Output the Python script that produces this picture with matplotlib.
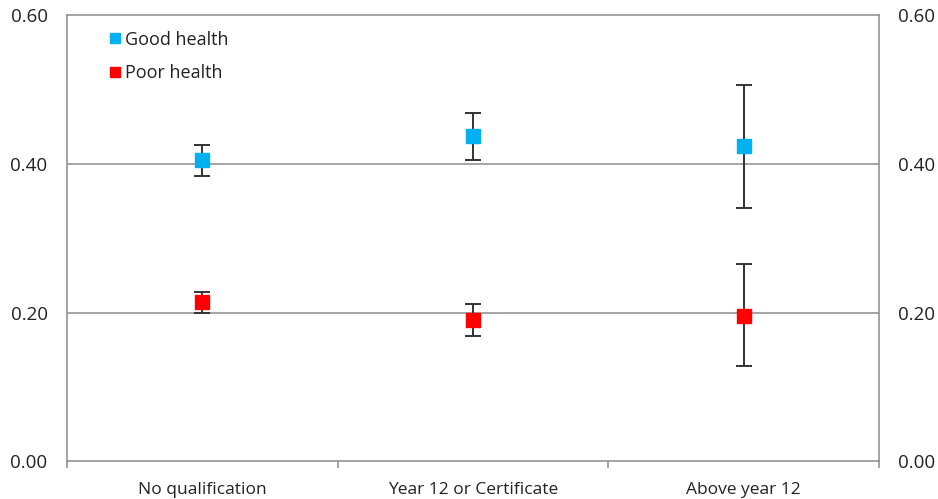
import matplotlib
matplotlib.use("Agg")
import matplotlib.pyplot as plt
from matplotlib.lines import Line2D
import numpy as np

categories = ["No qualification", "Year 12 or Certificate", "Above year 12"]
good = [0.405, 0.437, 0.424]
good_lo = [0.384, 0.405, 0.341]
good_hi = [0.426, 0.468, 0.506]
poor = [0.214, 0.190, 0.196]
poor_lo = [0.200, 0.169, 0.128]
poor_hi = [0.228, 0.211, 0.265]
yticks = [0.0, 0.2, 0.4, 0.6]
ytick_labels = ["0.00", "0.20", "0.40", "0.60"]

plt.rcParams['font.family'] = ['Open Sans', 'DejaVu Sans']

fig = plt.figure(figsize=(9.38, 4.99), dpi=100)
ax = fig.add_axes([67/938, 1-461.3/499, (879-67)/938, (461.3-15.3)/499])

x = np.arange(len(categories))
gridc = "#8c8c8c"
for y in yticks[1:3]:
    ax.axhline(y, color=gridc, lw=1.1, zorder=1)

def draw(vals, lo, hi, color):
    vals = np.array(vals); lo = np.array(lo); hi = np.array(hi)
    ax.errorbar(x, vals, yerr=[vals - lo, hi - vals], fmt='none', ecolor="#333333",
                elinewidth=1.4, capsize=6, capthick=1.4, zorder=2)
    ax.plot(x, vals, 's', color=color, markersize=10, zorder=3, linestyle='none')

draw(good, good_lo, good_hi, "#00B0F0")
draw(poor, poor_lo, poor_hi, "#FF0000")

ax.set_xlim(-0.5, 2.5)
ax.set_ylim(0, 0.6)
ax.set_yticks(yticks)
ax.set_yticklabels(ytick_labels)
ax.tick_params(axis='y', length=0, pad=14, labelsize=13.5, labelcolor="#222222",
               left=True, right=True, labelleft=True, labelright=True)
ax.set_xticks(x)
ax.set_xticklabels(categories)
ax.tick_params(axis='x', which='major', length=0, pad=15, labelsize=12.5, labelcolor="#222222")
ax.set_xticks([-0.5, 0.5, 1.5, 2.5], minor=True)
ax.tick_params(axis='x', which='minor', length=5, color=gridc, width=1.1)
for s in ax.spines.values():
    s.set_color(gridc)
    s.set_linewidth(1.1)

handles = [Line2D([], [], marker='s', color="#00B0F0", linestyle='none', markersize=7),
           Line2D([], [], marker='s', color="#FF0000", linestyle='none', markersize=7)]
ax.legend(handles, ["Good health", "Poor health"], loc='upper left',
          bbox_to_anchor=(0.033, 1.0), frameon=False, fontsize=13,
          handlelength=0.6, handletextpad=0.3, labelspacing=0.85, borderaxespad=0.45,
          labelcolor="#222222")

fig.savefig("out.png", dpi=100)
